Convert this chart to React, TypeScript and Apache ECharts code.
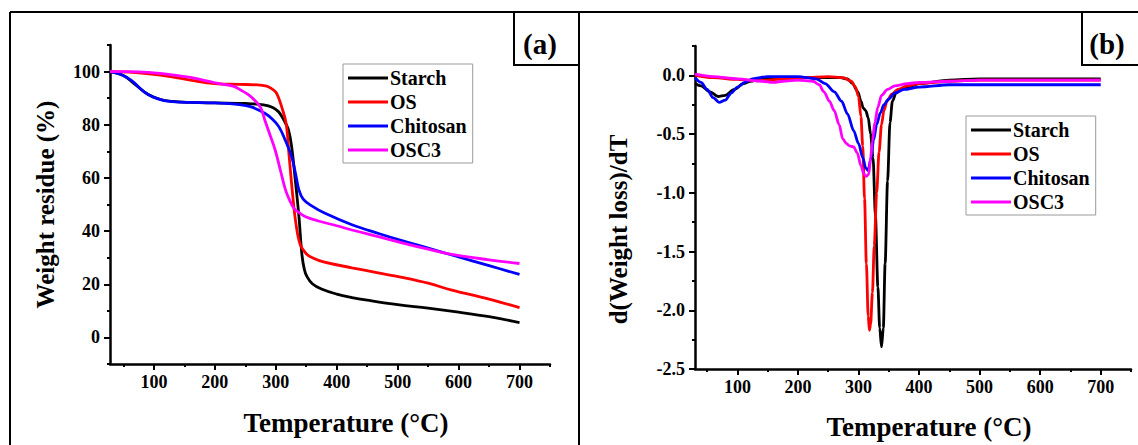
import React, { useEffect, useRef } from "react";
import * as echarts from "echarts";

const seriesNames = ["Starch", "OS", "Chitosan", "OSC3"];
const seriesColors = ["#000000", "#ff0000", "#0000ff", "#ff00ff"];

const xMajorTicks = [100, 200, 300, 400, 500, 600, 700];
const xMinorTicks = [50, 150, 250, 350, 450, 550, 650, 750];
const tgaMajorTicks = [0, 20, 40, 60, 80, 100];
const tgaMinorTicks = [-10, 10, 30, 50, 70, 90, 110];
const dtgMajorTicks = [-2.5, -2.0, -1.5, -1.0, -0.5, 0.0];
const dtgMinorTicks = [-2.25, -1.75, -1.25, -0.75, -0.25, 0.25];

// (a) TGA: weight residue (%)
const tgaStarchT = [28, 50, 70, 90, 110, 130, 160, 200, 250, 280, 295, 305, 315, 321, 326, 332, 338, 343, 347, 351, 360, 375, 400, 425, 450, 500, 550, 600, 650, 700];
const tgaStarchW = [100, 98.5, 95, 91.5, 89.6, 88.8, 88.4, 88.2, 88.0, 87.5, 86.5, 84.8, 81, 78, 71.8, 59.3, 45.5, 31, 25.5, 23, 20.2, 18.2, 16.3, 15, 14, 12.3, 11, 9.5, 7.8, 5.6];

const tgaOsT = [28, 60, 100, 130, 160, 200, 240, 270, 285, 293, 300, 304, 310, 317, 322, 328, 333, 340, 350, 360, 380, 425, 470, 507, 550, 589, 650, 700];
const tgaOsW = [100, 99.8, 99, 98, 96.8, 95.5, 95.2, 95.0, 94.5, 93.6, 92.3, 90.5, 86.5, 80.5, 68, 53, 43, 35, 31.5, 30, 28.3, 26.2, 24.2, 22.6, 20.4, 17.8, 14.4, 11.2];

const tgaChitosanT = [28, 45, 63, 84, 100, 115, 130, 160, 200, 240, 260, 282, 295, 305, 315, 326, 333, 338, 345, 359, 380, 425, 470, 507, 550, 589, 650, 700];
const tgaChitosanW = [100, 99, 96.7, 92.4, 90.3, 89.2, 88.7, 88.4, 88.2, 87.6, 86.7, 84.3, 82, 79.3, 74.5, 68, 61, 55.5, 52, 49.5, 46.8, 42.4, 39, 36.4, 33.6, 31, 27, 23.7];

const tgaOsc3T = [28, 60, 100, 130, 160, 200, 230, 243, 255, 265, 275, 282, 290, 299, 308, 316, 322, 330, 338, 350, 370, 400, 425, 470, 507, 550, 589, 650, 700];
const tgaOsc3W = [100, 100, 99.5, 98.8, 97.8, 95.8, 94.5, 93, 91.3, 89.3, 86.5, 81.8, 76.5, 70.5, 62.5, 55.5, 52, 48.5, 47, 45.3, 43.8, 42, 40.4, 37.8, 35.6, 33.2, 31.2, 29.2, 27.8];

// (b) DTG: d(weight loss)/dT
const dtgStarchT = [30, 40, 55, 68, 80, 95, 110, 121, 140, 160, 200, 250, 270, 282, 290, 299, 304, 308, 312, 316, 320, 324, 328, 332, 335, 338, 341, 344, 348, 352, 356, 362, 370, 380, 400, 450, 500, 600, 700];
const dtgStarchV = [-0.07, -0.09, -0.14, -0.18, -0.17, -0.12, -0.07, -0.05, -0.03, -0.02, -0.02, -0.02, -0.02, -0.03, -0.07, -0.14, -0.22, -0.28, -0.3, -0.36, -0.5, -0.7, -1.2, -1.8, -2.15, -2.31, -2.15, -1.6, -0.9, -0.4, -0.22, -0.15, -0.12, -0.1, -0.07, -0.04, -0.03, -0.03, -0.03];

const dtgOsT = [30, 60, 100, 130, 150, 180, 210, 250, 275, 288, 295, 300, 304, 307, 310, 313, 316, 318, 320, 323, 326, 330, 334, 338, 342, 347, 355, 365, 380, 400, 450, 500, 600, 700];
const dtgOsV = [0.0, -0.02, -0.035, -0.045, -0.04, -0.03, -0.02, -0.01, -0.02, -0.05, -0.1, -0.18, -0.35, -0.6, -1.05, -1.6, -2.05, -2.17, -2.12, -1.85, -1.45, -1.0, -0.65, -0.42, -0.3, -0.22, -0.16, -0.12, -0.09, -0.07, -0.05, -0.04, -0.04, -0.04];

const dtgChitosanT = [30, 40, 50, 60, 70, 80, 90, 100, 112, 125, 150, 200, 230, 245, 260, 272, 282, 292, 300, 307, 312, 316, 320, 325, 330, 336, 342, 350, 360, 375, 400, 450, 500, 600, 700];
const dtgChitosanV = [-0.02, -0.06, -0.12, -0.19, -0.23, -0.21, -0.15, -0.1, -0.06, -0.03, -0.01, -0.01, -0.03, -0.07, -0.14, -0.22, -0.33, -0.47, -0.58, -0.7, -0.79, -0.81, -0.72, -0.55, -0.42, -0.32, -0.25, -0.2, -0.15, -0.12, -0.1, -0.08, -0.08, -0.08, -0.08];

const dtgOsc3T = [30, 60, 100, 140, 160, 175, 200, 225, 235, 243, 252, 260, 268, 274, 280, 285, 292, 298, 304, 309, 313, 317, 320, 323, 327, 332, 338, 348, 360, 380, 400, 450, 500, 600, 700];
const dtgOsc3V = [0.01, -0.01, -0.03, -0.05, -0.06, -0.05, -0.04, -0.05, -0.08, -0.14, -0.22, -0.3, -0.42, -0.54, -0.58, -0.6, -0.61, -0.66, -0.77, -0.84, -0.86, -0.84, -0.7, -0.56, -0.4, -0.27, -0.17, -0.12, -0.09, -0.07, -0.06, -0.05, -0.04, -0.04, -0.04];

const tgaSets = [
  [tgaStarchT, tgaStarchW],
  [tgaOsT, tgaOsW],
  [tgaChitosanT, tgaChitosanW],
  [tgaOsc3T, tgaOsc3W],
];
const dtgSets = [
  [dtgStarchT, dtgStarchV],
  [dtgOsT, dtgOsV],
  [dtgChitosanT, dtgChitosanV],
  [dtgOsc3T, dtgOsc3V],
];

const FONT = "Liberation Serif, Times New Roman, serif";

const zip = (xs: number[], ys: number[]) => xs.map((x, i) => [x, ys[i]]);

function xAxes(gridIndex: number, min: number, name: string, nameGap: number) {
  const base = {
    gridIndex,
    type: "value",
    min,
    max: 750,
    position: "bottom",
    splitLine: { show: false },
  };
  return [
    {
      ...base,
      name,
      nameLocation: "middle",
      nameGap,
      nameTextStyle: {
        fontFamily: FONT,
        fontWeight: "bold",
        fontSize: 27,
        color: "#000",
        padding: [0, 0, 0, 32],
      },
      axisLine: { show: true, onZero: false, lineStyle: { color: "#000", width: 2.5 } },
      axisTick: { show: true, inside: false, length: 6, customValues: xMajorTicks, lineStyle: { color: "#000", width: 2 } },
      axisLabel: {
        show: true,
        customValues: xMajorTicks,
        margin: 9,
        fontFamily: FONT,
        fontWeight: "bold",
        fontSize: 18,
        color: "#000",
      },
    },
    {
      ...base,
      axisLine: { show: false, onZero: false },
      axisTick: { show: true, inside: false, length: 3, customValues: xMinorTicks, lineStyle: { color: "#000", width: 2 } },
      axisLabel: { show: false },
    },
  ];
}

function yAxes(
  gridIndex: number,
  min: number,
  max: number,
  major: number[],
  minor: number[],
  name: string,
  nameGap: number,
  fmt: (v: number) => string,
  namePad: number[]
) {
  const base = {
    gridIndex,
    type: "value",
    min,
    max,
    position: "left",
    splitLine: { show: false },
  };
  return [
    {
      ...base,
      name,
      nameLocation: "middle",
      nameGap,
      nameTextStyle: {
        fontFamily: FONT,
        fontWeight: "bold",
        fontSize: 25,
        color: "#000",
        padding: namePad,
      },
      axisLine: { show: true, onZero: false, lineStyle: { color: "#000", width: 2.5 } },
      axisTick: { show: true, inside: false, length: 6, customValues: major, lineStyle: { color: "#000", width: 2 } },
      axisLabel: {
        show: true,
        customValues: major,
        margin: 10,
        formatter: fmt,
        fontFamily: FONT,
        fontWeight: "bold",
        fontSize: 18,
        color: "#000",
      },
    },
    {
      ...base,
      axisLine: { show: false, onZero: false },
      axisTick: { show: true, inside: false, length: 3, customValues: minor, lineStyle: { color: "#000", width: 2 } },
      axisLabel: { show: false },
    },
  ];
}

function legend(left: number, top: number) {
  return {
    show: true,
    orient: "vertical",
    left,
    top,
    data: seriesNames,
    icon: "rect",
    itemWidth: 40,
    itemHeight: 3,
    itemGap: 4,
    padding: [4, 6, 3, 5],
    backgroundColor: "#fff",
    borderColor: "#9a9a9a",
    borderWidth: 1,
    selectedMode: false,
    textStyle: {
      fontFamily: FONT,
      fontWeight: "bold",
      fontSize: 20,
      lineHeight: 20,
      color: "#000",
      padding: [0, 0, 0, -3],
    },
  };
}

export default function App() {
  const ref = useRef<HTMLDivElement>(null);

  useEffect(() => {
    if (!ref.current) return;
    const chart = echarts.init(ref.current, undefined, { renderer: "svg" });

    const series: any[] = [];
    tgaSets.forEach(([t, w], i) => {
      series.push({
        name: seriesNames[i],
        type: "line",
        xAxisIndex: 0,
        yAxisIndex: 0,
        data: zip(t, w),
        showSymbol: false,
        smooth: 0.4,
        color: seriesColors[i],
        lineStyle: { color: seriesColors[i], width: 2.8 },
      });
    });
    dtgSets.forEach(([t, v], i) => {
      series.push({
        name: seriesNames[i],
        type: "line",
        xAxisIndex: 2,
        yAxisIndex: 2,
        data: zip(t, v),
        showSymbol: false,
        smooth: 0.3,
        smoothMonotone: "x",
        color: seriesColors[i],
        lineStyle: { color: seriesColors[i], width: 2.8 },
      });
    });

    const border = { stroke: "#000", lineWidth: 2 };
    const boxFont = "bold 29px Liberation Serif, Times New Roman, serif";

    const option: any = {
      animation: false,
      backgroundColor: "#fff",
      grid: [
        { left: 110, top: 45, width: 440, height: 319, containLabel: false },
        { left: 695, top: 46, width: 436, height: 324, containLabel: false },
      ],
      xAxis: [
        ...xAxes(0, 28, "Temperature (°C)", 45),
        ...xAxes(1, 30, "Temperature (°C)", 44),
      ],
      yAxis: [
        ...yAxes(0, -10, 110, tgaMajorTicks, tgaMinorTicks, "Weight residue (%)", 52, (v: number) => String(v), [0, 0, 0, 0]),
        ...yAxes(1, -2.5, 0.25, dtgMajorTicks, dtgMinorTicks, "d(Weight loss)/dT", 64, (v: number) => v.toFixed(1), [0, 44, 0, 0]),
      ],
      legend: [legend(343, 64), legend(966, 116)],
      series,
      graphic: [
        { type: "line", shape: { x1: 10, y1: 12, x2: 1138, y2: 12 }, style: border, z: 10 },
        { type: "line", shape: { x1: 10, y1: 12, x2: 10, y2: 445 }, style: border, z: 10 },
        { type: "line", shape: { x1: 579, y1: 12, x2: 579, y2: 445 }, style: border, z: 10 },
        { type: "rect", shape: { x: 514, y: 12, width: 65, height: 53 }, style: { fill: "#fff", stroke: "#000", lineWidth: 2 }, z: 11 },
        { type: "rect", shape: { x: 1082, y: 12, width: 62, height: 53 }, style: { fill: "#fff", stroke: "#000", lineWidth: 2 }, z: 11 },
        {
          type: "text",
          x: 540,
          y: 44,
          z: 12,
          style: {
            text: "(a)",
            fill: "#000",
            font: boxFont,
            textAlign: "center",
            textVerticalAlign: "middle",
            align: "center",
            verticalAlign: "middle",
          },
        },
        {
          type: "text",
          x: 1107,
          y: 44,
          z: 12,
          style: {
            text: "(b)",
            fill: "#000",
            font: boxFont,
            textAlign: "center",
            textVerticalAlign: "middle",
            align: "center",
            verticalAlign: "middle",
          },
        },
      ],
    };

    chart.setOption(option);
    return () => chart.dispose();
  }, []);

  return (
    <div
      ref={ref}
      style={{ position: "fixed", left: 0, top: 0, width: 1138, height: 445, background: "#fff" }}
    />
  );
}
